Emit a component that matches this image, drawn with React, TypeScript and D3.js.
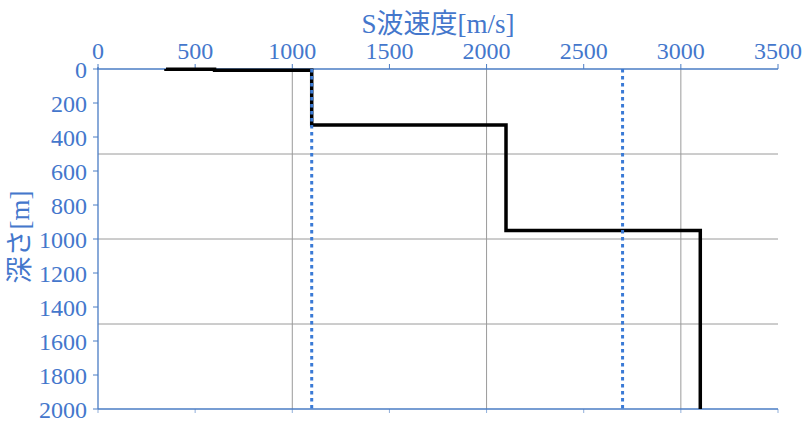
import React from "react";
import * as d3 from "d3";

const velocities = [350, 600, 1100, 2100, 3100];
const layerTops = [0, 2, 8, 330, 950];
const layerBottoms = [2, 8, 330, 950, 2000];
const refVelocities = [1100, 2700];
const xTicks = [0, 500, 1000, 1500, 2000, 2500, 3000, 3500];
const yTicks = [0, 200, 400, 600, 800, 1000, 1200, 1400, 1600, 1800, 2000];
const xGrid = [1000, 2000, 3000];
const yGrid = [500, 1000, 1500];
const xTitle = "S波速度[m/s]";
const yTitle = "深さ[m]";

const W = 810;
const H = 426;
const BLUE = "#4477cc";
const AXIS = "#4a7cc4";
const GRID = "#9a9a9a";
const FONT = '"Liberation Serif", "Noto Sans CJK JP", serif';
const txt = { fontFamily: FONT, fontWeight: 400 as const };

export default function App() {
  const x = d3.scaleLinear().domain([0, 3500]).range([98, 778]);
  const y = d3.scaleLinear().domain([0, 2000]).range([69, 409]);

  const pts: [number, number][] = [];
  velocities.forEach((v, i) => {
    pts.push([v, layerTops[i]]);
    pts.push([v, layerBottoms[i]]);
  });
  const line = d3
    .line<[number, number]>()
    .x((d) => x(d[0]))
    .y((d) => y(d[1]));

  return (
    <svg
      width={W}
      height={H}
      style={{ position: "absolute", left: 0, top: 0, background: "#fff" }}
    >
      <rect x={0} y={0} width={W} height={H} fill="#fff" />
      {xGrid.map((v) => (
        <line key={"xg" + v} x1={x(v)} x2={x(v)} y1={y(0)} y2={y(2000)} stroke={GRID} strokeWidth={1} />
      ))}
      {yGrid.map((v) => (
        <line key={"yg" + v} x1={x(0)} x2={x(3500)} y1={y(v)} y2={y(v)} stroke={GRID} strokeWidth={1} />
      ))}
      <line x1={x(0) - 1} x2={x(3500)} y1={y(0)} y2={y(0)} stroke={AXIS} strokeWidth={1.3} />
      {xTicks.map((v) => (
        <g key={"xt" + v}>
          <line x1={x(v)} x2={x(v)} y1={y(0)} y2={y(0) - 5} stroke={AXIS} strokeWidth={1} />
          <line x1={x(v)} x2={x(v)} y1={y(2000)} y2={y(2000) + 4} stroke={AXIS} strokeWidth={1} opacity={0.6} />
          <text x={x(v)} y={59} fontSize={24} fill={BLUE} style={txt} textAnchor="middle">
            {v}
          </text>
        </g>
      ))}
      <line x1={x(0)} x2={x(3500)} y1={y(2000)} y2={y(2000)} stroke={AXIS} strokeWidth={1.3} />
      <line x1={x(0)} x2={x(0)} y1={y(0) - 2} y2={y(2000)} stroke={AXIS} strokeWidth={1.3} />
      {yTicks.map((v) => (
        <g key={"yt" + v}>
          <line x1={x(0) - 5} x2={x(0)} y1={y(v)} y2={y(v)} stroke={AXIS} strokeWidth={1} />
          <text x={87} y={y(v) + 9} fontSize={24} fill={BLUE} style={txt} textAnchor="end">
            {v}
          </text>
        </g>
      ))}
      <path d={line(pts) || ""} fill="none" stroke="#000" strokeWidth={3.5} strokeLinejoin="miter" />
      {refVelocities.map((v) => (
        <line
          key={"rv" + v}
          x1={x(v)}
          x2={x(v)}
          y1={y(0)}
          y2={y(2000)}
          stroke="#3a7ad6"
          strokeWidth={3}
          strokeDasharray="3.5 3.5"
        />
      ))}
      <text x={438} y={33} fontSize={27} fill={BLUE} style={txt} textAnchor="middle">
        {xTitle}
      </text>
      <text
        transform={`translate(29, 237) rotate(-90)`}
        fontSize={27}
        fill={BLUE}
        style={txt}
        textAnchor="middle"
      >
        {yTitle}
      </text>
    </svg>
  );
}
